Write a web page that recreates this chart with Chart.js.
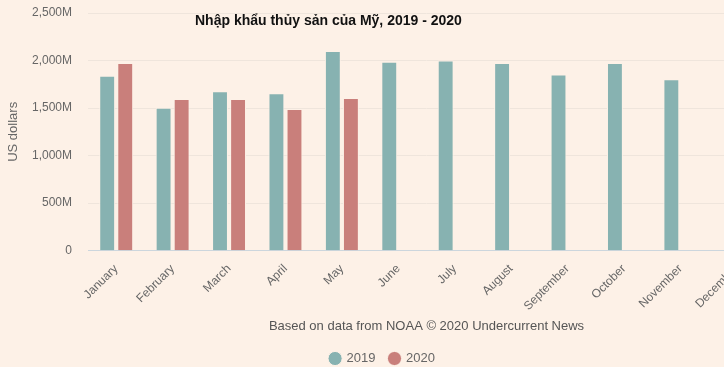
<!DOCTYPE html>
<html>
<head>
<meta charset="utf-8">
<script src="https://cdn.jsdelivr.net/npm/chart.js@4"></script>
<style>
  html, body { margin: 0; padding: 0; overflow: hidden; background: #fdf1e7; }
  #wrap { position: relative; width: 765px; height: 375px; }
  #chartTitle {
    position: absolute; left: 195px; top: 12px;
    font: bold 14px "Liberation Sans", Arial, sans-serif; color: #111;
  }
</style>
</head>
<body>
<div id="wrap">
  <canvas id="importChart" width="765" height="375"></canvas>
  <div id="chartTitle">Nhập khẩu thủy sản của Mỹ, 2019 - 2020</div>
</div>
<script>
// monthly US seafood imports, million USD
const months = ["January", "February", "March", "April", "May", "June",
    "July", "August", "September", "October", "November", "December"];
const imports2019 = [1839, 1504, 1677, 1656, 2100, 1987, 2001, 1973, 1853, 1973, 1804, null];
const imports2020 = [1973, 1596, 1596, 1490, 1607, null, null, null, null, null, null, null];
const yTicks = [0, 500, 1000, 1500, 2000, 2500];

const importChart = document.getElementById("importChart");

new Chart(importChart, {
    type: 'bar',
    data: {
        labels: months,
        datasets: [{
            label: '2019',
            data: imports2019,
            backgroundColor: '#87b2b1',
            borderColor: '#fdf1e7',
            borderWidth: 1,
            categoryPercentage: 0.64,
            barPercentage: 0.88
        }, {
            label: '2020',
            data: imports2020,
            backgroundColor: '#c97f7b',
            borderColor: '#fdf1e7',
            borderWidth: 1,
            categoryPercentage: 0.64,
            barPercentage: 0.88
        }]
    },
    options: {
        responsive: false,
        animation: false,
        layout: { padding: { top: 13, left: 0, right: 0, bottom: 0 } },
        plugins: {
            legend: {
                position: 'bottom',
                labels: {
                    usePointStyle: true,
                    pointStyle: 'circle',
                    boxWidth: 10,
                    boxHeight: 10,
                    padding: 14,
                    color: '#666',
                    font: { family: 'Liberation Sans', size: 13 }
                }
            },
            tooltip: { enabled: false }
        },
        scales: {
            x: {
                grid: { display: false },
                border: { color: '#ccd6dd' },
                ticks: {
                    minRotation: 45,
                    maxRotation: 45,
                    color: '#666',
                    font: { family: 'Liberation Sans', size: 12 }
                },
                title: {
                    display: true,
                    text: 'Based on data from NOAA © 2020 Undercurrent News',
                    color: '#555',
                    font: { family: 'Liberation Sans', size: 13 },
                    padding: { top: 2, bottom: 4 }
                }
            },
            y: {
                min: 0,
                max: 2500,
                afterBuildTicks: axis => { axis.ticks = yTicks.map(v => ({ value: v })); },
                afterFit: axis => { axis.width = 88; axis.paddingTop = 0; },
                grid: { color: '#efe5dc', drawTicks: false },
                border: { display: false },
                ticks: {
                    padding: 16,
                    color: '#666',
                    font: { family: 'Liberation Sans', size: 12 },
                    callback: v => v === 0 ? '0' : v.toLocaleString('en-US') + 'M'
                },
                title: {
                    display: true,
                    text: 'US dollars',
                    color: '#666',
                    font: { family: 'Liberation Sans', size: 13 },
                    padding: { top: 6, bottom: 0 }
                }
            }
        }
    }
});
</script>
</body>
</html>
